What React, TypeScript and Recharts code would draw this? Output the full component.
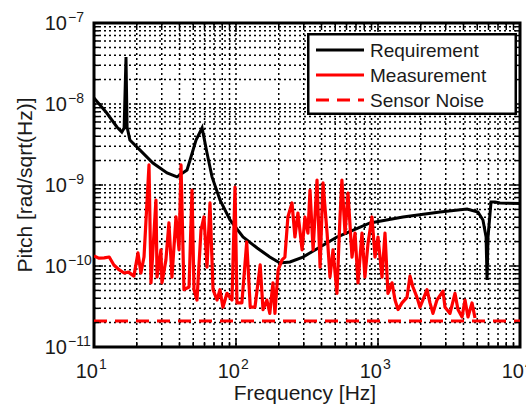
import { LineChart, Line, XAxis, YAxis, CartesianGrid, ReferenceArea, Legend } from 'recharts'

const W = 526
const H = 406
const PLOT_LEFT = 94
const PLOT_TOP = 23
const PLOT_BOTTOM = 347
const FONT = '"Liberation Sans", Arial, sans-serif'

const xDecades   = [10, 100, 1000, 10000]
const xExponents = ['1', '2', '3', '4']
const yDecades   = [1e-11, 1e-10, 1e-9, 1e-8, 1e-7]
const yExponents = ['\u221211', '\u221210', '\u22129', '\u22128', '\u22127']
const minorSteps = [1, 2, 3, 4, 5, 6, 7, 8, 9]

// requirement (black)
const reqFreq  = [10, 12.3, 14.5, 15.7, 16.3, 16.8, 17.1, 17.9, 21.1, 26, 32.7, 38.4, 45.2, 48.2, 52.3, 57.7, 62.5, 67.8, 77.1, 90.8, 112, 141, 173, 204, 240, 296, 391, 514, 879, 1500, 2735, 4236, 5058, 5483, 5768, 5861, 5955, 6251, 6674, 7230, 10000]
const reqValue = [1.19e-8, 7.74e-9, 5.2e-9, 4.51e-9, 5.06e-9, 3.8e-8, 5.2e-9, 3.59e-9, 2.7e-9, 1.87e-9, 1.41e-9, 1.26e-9, 1.53e-9, 2.22e-9, 3.59e-9, 5.06e-9, 2.48e-9, 1.26e-9, 6.53e-10, 3.7e-10, 2.28e-10, 1.67e-10, 1.29e-10, 1.09e-10, 1.12e-10, 1.29e-10, 1.72e-10, 2.28e-10, 3.4e-10, 4.03e-10, 4.65e-10, 5.06e-10, 4.65e-10, 3.7e-10, 2.28e-10, 6.7e-11, 2.28e-10, 6.17e-10, 6.17e-10, 6.0e-10, 5.9e-10]

// measurement (red)
const measFreq = [10, 10.8, 11.8, 12.8, 13.8, 15, 16.3, 17.5, 19.1, 20.4, 21.4, 22.5, 24.4, 25.2, 27.3, 27.8, 29.6, 30.1, 32.1, 33.7, 35.4, 37.8, 39.7, 41, 43, 46.7, 49, 50.6, 53.1, 56.7, 59.5, 62.5, 65.6, 68.9, 73.5, 77.1, 80.9, 86.4, 93.7, 98.4, 101.6, 110, 119, 126, 136, 148, 155, 165, 173, 182, 188, 198, 211, 221, 232, 248, 260, 273, 292, 306, 321, 332, 349, 372, 391, 410, 438, 459, 482, 514, 540, 557, 586, 615, 656, 689, 723, 771, 809, 851, 907, 953, 1000, 1067, 1120, 1175, 1255, 1318, 1383, 1476, 1600, 1680, 1762, 1882, 1976, 2215, 2323, 2438, 2600, 2868, 2965, 3214, 3484, 3657, 3906, 4100, 4304, 4592, 4820]
const measValue = [1.33e-10, 1.25e-10, 1.26e-10, 1.29e-10, 1.03e-10, 9e-11, 8.2e-11, 8.4e-11, 7.5e-11, 1.45e-10, 8.2e-11, 1.29e-10, 1.77e-9, 6.2e-11, 6.53e-10, 7.3e-11, 1.58e-10, 6.2e-11, 1.19e-10, 3.4e-10, 7.3e-11, 4.03e-10, 1.58e-10, 1.77e-9, 5.1e-11, 5.5e-11, 8.68e-10, 5.1e-11, 3.8e-11, 2.78e-10, 4.03e-10, 9.7e-11, 6.0e-10, 5.1e-11, 3.8e-11, 5.1e-11, 3.1e-11, 4.6e-11, 3.8e-11, 9.45e-10, 3.5e-11, 3.5e-11, 1.98e-10, 3.1e-11, 3.1e-11, 1.03e-10, 2.9e-11, 3.8e-11, 2.6e-11, 6.2e-11, 2.6e-11, 8.9e-11, 1.19e-10, 1.29e-10, 4.03e-10, 6.0e-10, 2.28e-10, 4.51e-10, 1.58e-10, 4.03e-10, 2.55e-10, 8.68e-10, 1.58e-10, 1.15e-9, 9.7e-11, 1.06e-9, 2.55e-10, 7.3e-11, 1.58e-10, 4.6e-11, 4.03e-10, 1.15e-9, 2.55e-10, 7.96e-10, 1.29e-10, 2.55e-10, 6.2e-11, 2.55e-10, 7.3e-11, 1.92e-10, 4.03e-10, 1.29e-10, 2.28e-10, 7.3e-11, 2.55e-10, 4.6e-11, 6.2e-11, 3.8e-11, 2.9e-11, 3.5e-11, 4.1e-11, 7.5e-11, 5.5e-11, 4.1e-11, 3.1e-11, 5.1e-11, 3.5e-11, 2.6e-11, 3.8e-11, 4.9e-11, 3.1e-11, 2.6e-11, 4.6e-11, 2.9e-11, 2.35e-11, 3.8e-11, 2.35e-11, 3.5e-11, 2.28e-11]

// sensor noise (red dashed)
const noiseFreq  = [10, 10000]
const noiseValue = [2.1e-11, 2.1e-11]

const legendItems = [
  { name: 'Requirement', color: '#000000', dash: undefined },
  { name: 'Measurement', color: '#ff0000', dash: undefined },
  { name: 'Sensor Noise', color: '#ff0000', dash: '13 8' },
]

const toPoints = (f: number[], v: number[]) => f.map((x, i) => ({ f: x, v: v[i] }))
const reqData   = toPoints(reqFreq, reqValue)
const measData  = toPoints(measFreq, measValue)
const noiseData = toPoints(noiseFreq, noiseValue)

const withMinors = (decades: number[]) =>
  decades.flatMap((d, i) => (i === decades.length - 1 ? [d] : minorSteps.map(m => d * m)))
const xTicks = withMinors(xDecades)
const yTicks = withMinors(yDecades)

// labels only at decades, small inward ticks on bottom/top edges
function XTick({ x, payload }: any) {
  const i = xDecades.indexOf(payload.value)
  const len = i < 0 ? 5 : 9
  return (
    <g fontFamily={FONT} fill="#1a1a1a">
      <line x1={x} x2={x} y1={PLOT_BOTTOM} y2={PLOT_BOTTOM - len} stroke="#000" strokeWidth={1.5} />
      <line x1={x} x2={x} y1={PLOT_TOP} y2={PLOT_TOP + len} stroke="#000" strokeWidth={1.5} />
      {i >= 0 && (
        <>
          <text x={x + 4} y={PLOT_BOTTOM + 31} fontSize={20} textAnchor="end">10</text>
          <text x={x + 5} y={PLOT_BOTTOM + 22} fontSize={14} textAnchor="start">{xExponents[i]}</text>
        </>
      )}
    </g>
  )
}

function YTick({ y, payload }: any) {
  const i = yDecades.indexOf(payload.value)
  const len = i < 0 ? 5 : 9
  return (
    <g fontFamily={FONT} fill="#1a1a1a">
      <line x1={PLOT_LEFT} x2={PLOT_LEFT + len} y1={y} y2={y} stroke="#000" strokeWidth={1.5} />
      <line x1={W - 6} x2={W - 6 - len} y1={y} y2={y} stroke="#000" strokeWidth={1.5} />
      {i >= 0 && (
        <>
          <text x={PLOT_LEFT - 27} y={y + 7} fontSize={20} textAnchor="end">10</text>
          <text x={PLOT_LEFT - 26} y={y - 1} fontSize={14} textAnchor="start">{yExponents[i]}</text>
        </>
      )}
    </g>
  )
}

function LegendBox() {
  return (
    <svg width={210} height={82} style={{ display: 'block' }}>
      <rect x={1.25} y={1.25} width={207.5} height={79.5} fill="#fff" stroke="#000" strokeWidth={2.5} />
      {legendItems.map((it, i) => {
        const cy = 17 + i * 25
        return (
          <g key={it.name}>
            <line x1={9} x2={57} y1={cy} y2={cy} stroke={it.color} strokeWidth={3} strokeDasharray={it.dash} />
            <text x={63} y={cy + 7} fontSize={19} fontFamily={FONT} fill="#1a1a1a">{it.name}</text>
          </g>
        )
      })}
    </svg>
  )
}

export default function App() {
  return (
    <div style={{ position: 'absolute', left: 0, top: 0, width: W, height: H, background: '#fff' }}>
      <LineChart width={W} height={H} margin={{ top: PLOT_TOP, right: 6, bottom: 0, left: 0 }}>
        <CartesianGrid stroke="#000" strokeDasharray="2 3" strokeWidth={1.5} />
        <XAxis
          dataKey="f"
          type="number"
          scale="log"
          domain={[10, 10000]}
          allowDataOverflow
          ticks={xTicks}
          interval={0}
          tick={<XTick />}
          tickLine={false}
          axisLine={false}
          height={H - PLOT_BOTTOM}
        />
        <YAxis
          dataKey="v"
          type="number"
          scale="log"
          domain={[1e-11, 1e-7]}
          allowDataOverflow
          ticks={yTicks}
          interval={0}
          tick={<YTick />}
          tickLine={false}
          axisLine={false}
          width={PLOT_LEFT}
        />
        <Line data={reqData} dataKey="v" name="Requirement" type="linear" stroke="#000" strokeWidth={3} dot={false} isAnimationActive={false} />
        <Line data={measData} dataKey="v" name="Measurement" type="linear" stroke="#ff0000" strokeWidth={3.2} strokeLinejoin="round" dot={false} isAnimationActive={false} />
        <Line data={noiseData} dataKey="v" name="Sensor Noise" type="linear" stroke="#ff0000" strokeWidth={3} strokeDasharray="13 8" dot={false} isAnimationActive={false} />
        <ReferenceArea x1={10} x2={10000} y1={1e-11} y2={1e-7} fill="none" stroke="#000" strokeWidth={3} ifOverflow="visible" />
        <Legend
          layout="horizontal"
          verticalAlign="middle"
          align="center"
          content={<LegendBox />}
          wrapperStyle={{ position: 'absolute', left: 307, top: 33, width: 210, height: 82 }}
        />
        <text x={305} y={400} fontSize={21} fontFamily={FONT} fill="#1a1a1a" textAnchor="middle">Frequency [Hz]</text>
        <text x={32} y={185} fontSize={21} fontFamily={FONT} fill="#1a1a1a" textAnchor="middle" transform="rotate(-90 32 185)">Pitch [rad/sqrt(Hz)]</text>
      </LineChart>
    </div>
  )
}
